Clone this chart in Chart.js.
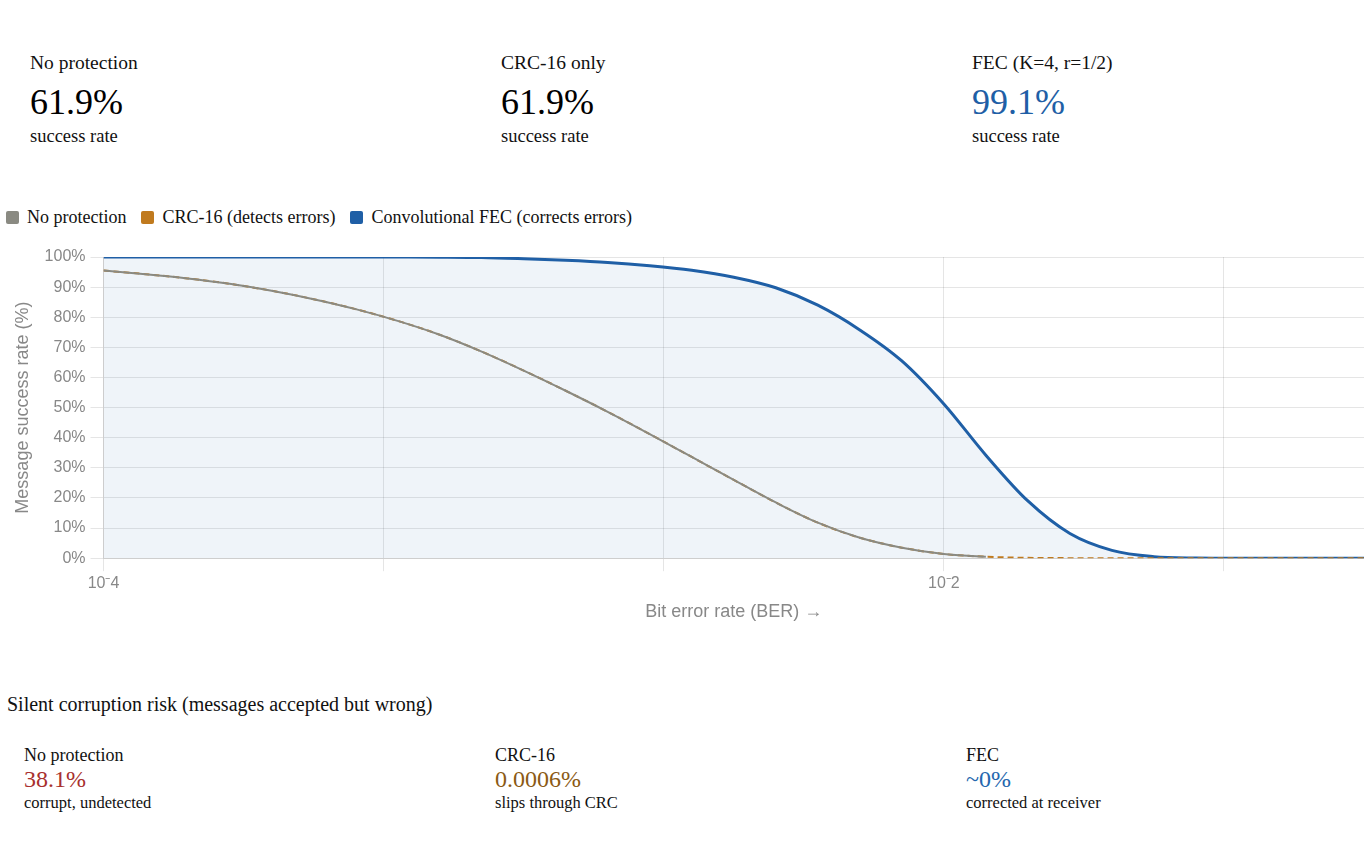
<!DOCTYPE html>
<html>
<head>
<meta charset="utf-8">
<title>Message success rate vs BER</title>
<script src="https://cdn.jsdelivr.net/npm/chart.js@4.4.1/dist/chart.umd.min.js"></script>
<style>
  html, body { margin: 0; padding: 0; overflow: hidden; background: #fff; }
  body { font-family: "Liberation Serif", "Times New Roman", serif; color: #111; width: 1364px; height: 861px; position: relative; }
  .row { position: absolute; left: 0; width: 1500px; }
  .card { position: absolute; top: 0; }
  .top .lbl { font-size: 19.5px; line-height: 24px; }
  .top .val { font-size: 36px; line-height: 40px; margin-top: 7px; }
  .top .cap { font-size: 18.5px; line-height: 22px; margin-top: 3px; }
  #legend { position: absolute; left: 6px; top: 205px; display: flex; font-size: 18px; line-height: 24px; }
  #legend .item { display: flex; align-items: center; margin-right: 15px; }
  #legend .box { width: 13px; height: 13px; border-radius: 2px; margin-right: 8px; }
  #wrap { position: absolute; left: 0; top: 238px; width: 1364px; height: 389px; }
  #risk-title { position: absolute; left: 7px; top: 692px; font-size: 20px; line-height: 24px; }
  .bot .lbl { font-size: 18px; line-height: 22px; }
  .bot .val { font-size: 24px; line-height: 26px; margin-top: 0px; }
  .bot .cap { font-size: 16.5px; line-height: 22px; margin-top: 0px; }
</style>
</head>
<body>

<div class="row top" id="top-stats" style="top:51px"></div>
<div id="legend"></div>
<div id="wrap"><canvas id="ber"></canvas></div>
<div id="risk-title">Silent corruption risk (messages accepted but wrong)</div>
<div class="row bot" id="risk-stats" style="top:744px"></div>

<script>
// x positions are log10(BER)
const logBer = [-4.0, -3.9, -3.8, -3.7, -3.6, -3.5, -3.4, -3.3, -3.2, -3.1,
                -3.0, -2.9, -2.8, -2.7, -2.6, -2.5, -2.4, -2.3, -2.2, -2.1,
                -2.0, -1.9, -1.8, -1.7, -1.6, -1.5, -1.4, -1.3, -1.2, -1.1, -1.0];

// message success rate, %
const noProtection = [95.5, 94.3, 92.9, 91.1, 88.8, 86.0, 82.7, 78.8, 74.2, 68.6,
                      62.3, 55.6, 48.6, 41.2, 33.6, 26.0, 18.5, 11.8, 6.8, 3.5,
                      1.4, 0.5, null, null, null, null, null, null, null, null, null];
const crc16 = [95.5, 94.3, 92.9, 91.1, 88.8, 86.0, 82.7, 78.8, 74.2, 68.6,
               62.3, 55.6, 48.6, 41.2, 33.6, 26.0, 18.5, 11.8, 6.8, 3.5,
               1.4, 0.5, 0.12, 0.02, 0, 0, 0, 0, 0, 0, 0];
const fec = [100, 100, 100, 100, 100, 100, 100, 99.98, 99.93, 99.8,
             99.4, 98.9, 98.2, 97.1, 95.6, 93.3, 89.8, 84.0, 75.8, 65.5,
             51.2, 34.2, 19.0, 8.2, 2.6, 0.5, 0.07, 0, 0, 0, 0];

const seriesNames = ['No protection', 'CRC-16 (detects errors)', 'Convolutional FEC (corrects errors)'];
const seriesColors = ['#8a8a82', '#c07a1e', '#1f5fa6'];

const xTicks = [-4, -3.3333, -2.6667, -2, -1.3333];
const xTickLabels = ['10\u207B4', '', '', '10\u207B2', ''];
const yTicks = [0, 10, 20, 30, 40, 50, 60, 70, 80, 90, 100];

const topLabels = ['No protection', 'CRC-16 only', 'FEC (K=4, r=1/2)'];
const topValues = ['61.9%', '61.9%', '99.1%'];
const topColors = ['#000', '#000', '#1f5fa6'];

const riskLabels = ['No protection', 'CRC-16', 'FEC'];
const riskValues = ['38.1%', '0.0006%', '~0%'];
const riskCaptions = ['corrupt, undetected', 'slips through CRC', 'corrected at receiver'];
const riskColors = ['#a8302e', '#8b5a14', '#2567ae'];

// stat cards
const topRow = document.getElementById('top-stats');
topLabels.forEach((t, i) => {
  const d = document.createElement('div');
  d.className = 'card';
  d.style.left = (30 + i * 471) + 'px';
  d.innerHTML = '<div class="lbl">' + t + '</div><div class="val" style="color:' + topColors[i] + '">' +
    topValues[i] + '</div><div class="cap">success rate</div>';
  topRow.appendChild(d);
});

const riskRow = document.getElementById('risk-stats');
riskLabels.forEach((t, i) => {
  const d = document.createElement('div');
  d.className = 'card';
  d.style.left = (24 + i * 471) + 'px';
  d.innerHTML = '<div class="lbl">' + t + '</div><div class="val" style="color:' + riskColors[i] + '">' +
    riskValues[i] + '</div><div class="cap">' + riskCaptions[i] + '</div>';
  riskRow.appendChild(d);
});

// legend
const legend = document.getElementById('legend');
seriesNames.forEach((n, i) => {
  const it = document.createElement('div');
  it.className = 'item';
  it.innerHTML = '<span class="box" style="background:' + seriesColors[i] + '"></span>' + n;
  legend.appendChild(it);
});

const pts = arr => logBer.map((x, i) => ({ x: x, y: arr[i] }));

const ctx = document.getElementById('ber');
new Chart(ctx, {
  type: 'line',
  data: {
    datasets: [{
      label: seriesNames[0],
      data: pts(noProtection),
      borderColor: seriesColors[0],
      borderWidth: 2,
      pointRadius: 0,
      cubicInterpolationMode: 'monotone',
      fill: false
    }, {
      label: seriesNames[1],
      data: pts(crc16),
      borderColor: seriesColors[1],
      borderWidth: 2,
      borderDash: [6, 4],
      pointRadius: 0,
      cubicInterpolationMode: 'monotone',
      fill: false
    }, {
      label: seriesNames[2],
      data: pts(fec),
      borderColor: seriesColors[2],
      backgroundColor: 'rgba(31,95,166,0.07)',
      borderWidth: 3,
      pointRadius: 0,
      cubicInterpolationMode: 'monotone',
      fill: 'origin'
    }]
  },
  options: {
    responsive: true,
    maintainAspectRatio: false,
    animation: false,
    layout: { padding: { top: 19, left: 0, right: 0, bottom: 0 } },
    plugins: {
      legend: { display: false },
      tooltip: { enabled: false }
    },
    scales: {
      x: {
        type: 'linear',
        min: -4,
        max: -1,
        afterBuildTicks: axis => { axis.ticks = xTicks.map(v => ({ value: v })); },
        ticks: {
          autoSkip: false,
          maxRotation: 0,
          padding: 3,
          color: '#888',
          font: { size: 16 },
          callback: (v, i) => xTickLabels[i]
        },
        grid: { tickLength: 13 },
        title: {
          display: true,
          text: 'Bit error rate (BER) \u2192',
          color: '#888',
          font: { size: 18 },
          padding: { top: 5, bottom: 4 }
        }
      },
      y: {
        min: 0,
        max: 100,
        afterBuildTicks: axis => { axis.ticks = yTicks.map(v => ({ value: v })); },
        ticks: {
          padding: 5,
          color: '#888',
          font: { size: 16 },
          callback: v => v + '%'
        },
        grid: { tickLength: 13 },
        title: {
          display: true,
          text: 'Message success rate (%)',
          color: '#888',
          font: { size: 18 },
          padding: { top: 12, bottom: 6 }
        }
      }
    }
  }
});
</script>
</body>
</html>
